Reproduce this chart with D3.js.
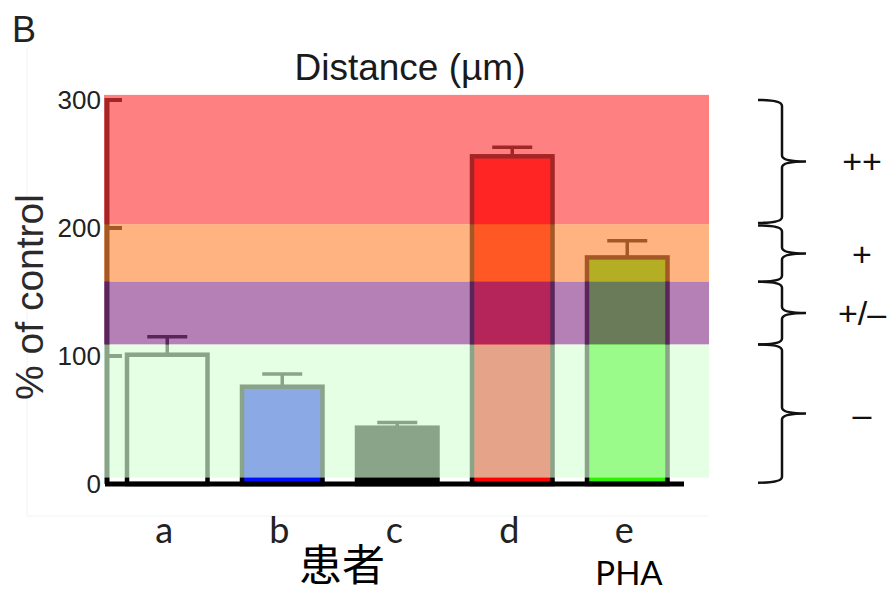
<!DOCTYPE html>
<html>
<head>
<meta charset="utf-8">
<script src="https://cdn.jsdelivr.net/npm/d3@7"></script>
<style>
  body { margin: 0; background: #fff; }
  svg { display: block; }
</style>
</head>
<body>
<svg></svg>
<script>
// bar chart with translucent response bands + braces on the right

const width = 894;
const height = 592;

const categories = ["a", "b", "c", "d", "e"];
const means = [101, 76, 44, 256, 177];
const errors = [14, 10, 4, 7, 13];
const barColors = ["#ffffff", "#0010ff", "#000000", "#ff0000", "#2ef000"];

const bandLabels = ["++", "+", "+/\u2013", "\u2013"];
const bandTop = [304, 203, 158, 109];
const bandBottom = [203, 158, 109, 5];
const bandColors = ["#ff3a3a", "#ff8939", "#8c398c", "#d6ffd6"];
const braceTop = [300, 202, 158, 109];
const braceBottom = [204, 158, 109, 1];

const yTicks = [0, 100, 200, 300];

const svg = d3.select("svg")
  .attr("width", width)
  .attr("height", height);

const y = d3.scaleLinear().domain([0, 300]).range([484, 100]);
const x = d3.scaleBand()
  .domain(categories)
  .range([109.75, 684.75])
  .paddingInner(0.3)
  .paddingOuter(0.15);

// faint frame of the original figure
svg.append("path")
  .attr("d", "M27,48V516H708")
  .attr("fill", "none")
  .attr("stroke", "#f2f2f2")
  .attr("stroke-width", 1);

// panel letter
svg.append("text")
  .attr("x", 12)
  .attr("y", 42)
  .attr("font-family", "Liberation Sans, Arial, sans-serif")
  .attr("font-size", 36)
  .attr("fill", "#222")
  .text("B");

// bars (under the bands)
const bars = svg.append("g");
bars.selectAll("rect")
  .data(categories)
  .join("rect")
  .attr("x", d => x(d))
  .attr("y", (d, i) => y(means[i]))
  .attr("width", x.bandwidth())
  .attr("height", (d, i) => y(0) - y(means[i]))
  .attr("fill", (d, i) => barColors[i])
  .attr("stroke", "#000")
  .attr("stroke-width", 4.5);

// error bars
const err = svg.append("g")
  .attr("stroke", "#000")
  .attr("stroke-width", 3.5)
  .attr("fill", "none");
err.selectAll("path")
  .data(categories)
  .join("path")
  .attr("d", (d, i) => {
    const cx = x(d) + x.bandwidth() / 2;
    const top = y(means[i] + errors[i]);
    return `M${cx},${y(means[i])}V${top}M${cx - 20},${top}H${cx + 20}`;
  });

// y axis line + inward ticks
const yAxis = svg.append("g")
  .attr("stroke", "#000")
  .attr("fill", "none");
yAxis.append("line")
  .attr("x1", 107).attr("x2", 107)
  .attr("y1", y(300) - 2).attr("y2", y(0))
  .attr("stroke-width", 5);
yAxis.selectAll(".tick")
  .data(yTicks)
  .join("line")
  .attr("class", "tick")
  .attr("x1", 107).attr("x2", 122)
  .attr("y1", d => y(d)).attr("y2", d => y(d))
  .attr("stroke-width", 4);

// translucent bands on top
svg.append("g")
  .selectAll("rect")
  .data(bandColors)
  .join("rect")
  .attr("x", 104)
  .attr("width", 605)
  .attr("y", (d, i) => y(bandTop[i]))
  .attr("height", (d, i) => y(bandBottom[i]) - y(bandTop[i]))
  .attr("fill", d => d)
  .attr("fill-opacity", 0.643);

// x axis
svg.append("line")
  .attr("x1", 105).attr("x2", 684)
  .attr("y1", y(0)).attr("y2", y(0))
  .attr("stroke", "#000")
  .attr("stroke-width", 5);

// tick labels
svg.append("g")
  .selectAll("text")
  .data(yTicks)
  .join("text")
  .attr("x", 101)
  .attr("y", d => y(d))
  .attr("dy", "0.36em")
  .attr("text-anchor", "end")
  .attr("font-family", "Liberation Sans, Arial, sans-serif")
  .attr("font-size", 26)
  .attr("fill", "#222")
  .text(d => d);

svg.append("text")
  .attr("x", 410)
  .attr("y", 80)
  .attr("text-anchor", "middle")
  .attr("font-family", "Liberation Sans, Arial, sans-serif")
  .attr("font-size", 37)
  .attr("fill", "#1a1a1a")
  .text("Distance (\u00b5m)");

svg.append("text")
  .attr("transform", "translate(43,297) rotate(-90)")
  .attr("text-anchor", "middle")
  .attr("font-family", "Liberation Sans, Arial, sans-serif")
  .attr("font-size", 39)
  .attr("fill", "#2a2a2a")
  .text("% of control");

// category labels
svg.append("g")
  .selectAll("text")
  .data(categories)
  .join("text")
  .attr("x", d => x(d) + x.bandwidth() / 2 - 3)
  .attr("y", 543)
  .attr("text-anchor", "middle")
  .attr("font-family", "Lato, sans-serif")
  .attr("font-size", 36)
  .attr("fill", "#222")
  .text(d => d);

svg.append("text")
  .attr("x", 342)
  .attr("y", 581)
  .attr("text-anchor", "middle")
  .attr("font-family", "Noto Sans CJK SC, sans-serif")
  .attr("font-size", 43)
  .attr("fill", "#000")
  .text("患者");

svg.append("text")
  .attr("x", 629)
  .attr("y", 585)
  .attr("text-anchor", "middle")
  .attr("font-family", "Lato, sans-serif")
  .attr("font-size", 33)
  .attr("fill", "#000")
  .text("PHA");

// braces
function brace(y0, y1) {
  const xl = 758, x0 = 782, xt = 806, r = 6;
  const ym = (y0 + y1) / 2;
  return `M${xl},${y0}Q${x0},${y0} ${x0},${y0 + r}` +
    `V${ym - r}Q${x0},${ym} ${xt},${ym}` +
    `Q${x0},${ym} ${x0},${ym + r}` +
    `V${y1 - r}Q${x0},${y1} ${xl},${y1}`;
}

const braces = svg.append("g");
braces.selectAll("path")
  .data(bandLabels)
  .join("path")
  .attr("d", (d, i) => brace(y(braceTop[i]), y(braceBottom[i])))
  .attr("fill", "none")
  .attr("stroke", "#111")
  .attr("stroke-width", 2.5);

braces.selectAll("text")
  .data(bandLabels)
  .join("text")
  .attr("x", 862)
  .attr("y", (d, i) => (y(braceTop[i]) + y(braceBottom[i])) / 2)
  .attr("dy", "0.35em")
  .attr("text-anchor", "middle")
  .attr("font-family", "Liberation Sans, Arial, sans-serif")
  .attr("font-size", 34)
  .attr("fill", "#111")
  .text(d => d);
</script>
</body>
</html>
